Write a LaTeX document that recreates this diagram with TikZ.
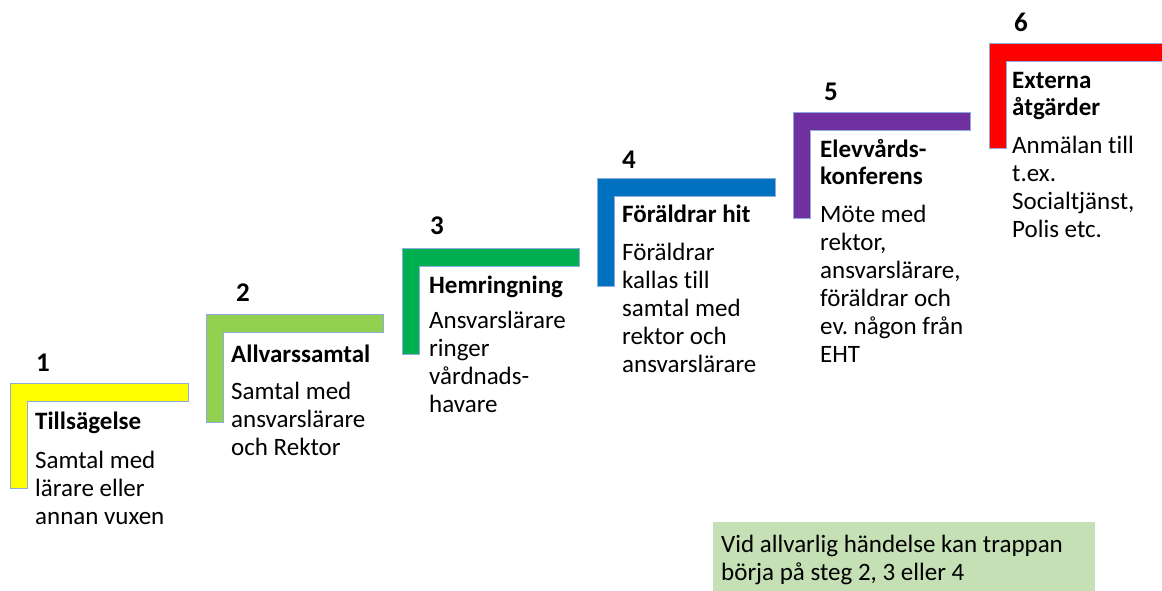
\documentclass[tikz,border=0pt]{standalone}
\usepackage{fontspec}
\setmainfont{Carlito}[Ligatures=NoCommon]
\frenchspacing
\definecolor{cYellow}{HTML}{FFFF00}
\definecolor{cLightGreen}{HTML}{92D050}
\definecolor{cGreen}{HTML}{00B050}
\definecolor{cBlue}{HTML}{0070C0}
\definecolor{cPurple}{HTML}{7030A0}
\definecolor{cRed}{HTML}{FF0000}
\definecolor{cEdge}{HTML}{8FAADC}
\definecolor{cNote}{HTML}{C5E0B4}
\newcommand\stairL[5]{%
  \filldraw[stairline, fill=#5] (#1,#2) -- (#3,#2) -- (#3,#2+18) -- (#1+17,#2+18) -- (#1+17,#4) -- (#1,#4) -- cycle;}
\tikzset{
  stairline/.style={draw=cEdge, line width=0.8pt},
  stepnum/.style={anchor=base west, inner sep=0pt, font=\bfseries\fontsize{27}{30}\selectfont},
  steptitle/.style={anchor=base west, inner sep=0pt, align=left, font=\bfseries\fontsize{25}{27}\selectfont},
  stepbody/.style={anchor=base west, inner sep=0pt, align=left, font=\fontsize{25}{28}\selectfont},
  notebox/.style={fill=cNote, draw=none}
}
\begin{document}
\begin{tikzpicture}[x=1pt,y=-1pt]
\useasboundingbox (0,0) rectangle (1162,590);
\clip (0,0) rectangle (1162,590);
\fill[white] (0,0) rectangle (1162,590);
% stairs
\stairL{10}{383}{188}{488}{cYellow}
\stairL{206}{314}{383}{422}{cLightGreen}
\stairL{402}{248}{579}{354}{cGreen}
\stairL{597}{178}{775}{286}{cBlue}
\stairL{793}{112}{970}{218}{cPurple}
\stairL{989}{43}{1175}{148}{cRed}
% (anchor base = baseline of the LAST line of each node)
% step 1
\node[stepnum] (n1) at (36,371) {1};
\node[steptitle] (t1) at (35,429) {Tillsägelse};
\node[stepbody] (b1) at (35,524) {Samtal med\\lärare eller\\annan vuxen};
% step 2
\node[stepnum] (n2) at (236,301) {2};
\node[steptitle] (t2) at (231,362) {Allvarssamtal};
\node[stepbody] (b2) at (231,455) {Samtal med\\ansvarslärare\\och Rektor};
% step 3
\node[stepnum] (n3) at (430,234) {3};
\node[steptitle] (t3) at (429,293) {Hemringning};
\node[stepbody] (b3) at (429,412) {Ansvarslärare\\ringer\\vårdnads-\\havare};
% step 4
\node[stepnum] (n4) at (622,168) {4};
\node[steptitle] (t4) at (622,222) {Föräldrar hit};
\node[stepbody] (b4) at (622,372) {Föräldrar\\kallas till\\samtal med\\rektor och\\ansvarslärare};
% step 5
\node[stepnum] (n5) at (824,100) {5};
\node[steptitle] (t5) at (820,184) {Elevvårds-\\konferens};
\node[stepbody] (b5) at (820,362) {Möte med\\rektor,\\ansvarslärare,\\föräldrar och\\ev. någon från\\EHT};
% step 6
\node[stepnum] (n6) at (1014,31) {6};
\node[steptitle] (t6) at (1012,115) {Externa\\åtgärder};
\node[stepbody] (b6) at (1012,237) {Anmälan till\\t.ex.\\Socialtjänst,\\Polis etc.};
% note
\fill[notebox] (713,522) rectangle (1095,595);
\node[stepbody] (note) at (721,580) {Vid allvarlig händelse kan trappan\\börja på steg 2, 3 eller 4};
\end{tikzpicture}
\end{document}
